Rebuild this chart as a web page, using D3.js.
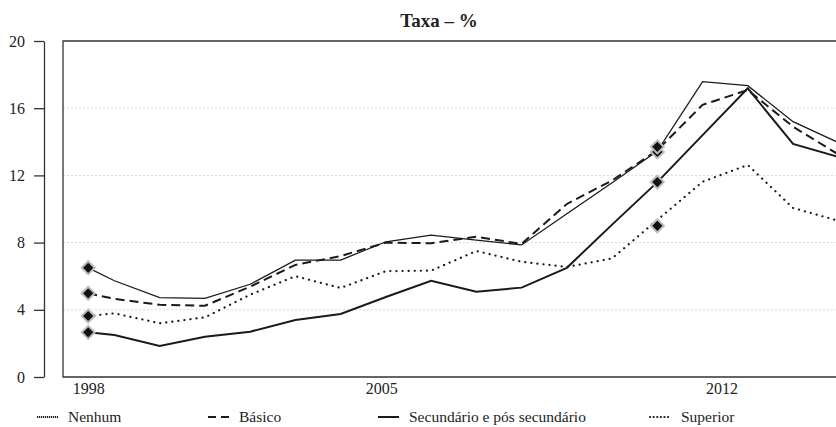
<!DOCTYPE html>
<html>
<head>
<meta charset="utf-8">
<script src="https://cdn.jsdelivr.net/npm/d3@7"></script>
<style>
  body { margin: 0; background: #fff; }
  svg text { font-family: "Liberation Serif", "Times New Roman", Times, serif; }
</style>
</head>
<body>
<script>
// Taxa de desemprego por nível de escolaridade (%)

//---- data
const years = [1998.42, 1999, 2000, 2001, 2002, 2003, 2004, 2005, 2006, 2007, 2008, 2009, 2010, 2011, 2012, 2013, 2014, 2015];
const nenhum     = [6.5, 5.73, 4.72, 4.68, 5.52, 6.96, 6.96, 8.05, 8.45, 8.15, 7.86, 9.72, 11.56, 13.45, 17.58, 17.34, 15.2, 13.95];
const basico     = [4.98, 4.65, 4.3, 4.24, 5.38, 6.67, 7.2, 8.0, 7.96, 8.35, 7.92, 10.3, 11.7, 13.5, 16.2, 17.08, 14.9, 13.25];
const secundario = [2.66, 2.5, 1.85, 2.4, 2.7, 3.39, 3.75, 4.76, 5.73, 5.08, 5.32, 6.5, 9.07, 11.6, 14.4, 17.18, 13.87, 13.1];
const superior   = [3.63, 3.79, 3.2, 3.55, 4.9, 6.0, 5.3, 6.3, 6.33, 7.5, 6.86, 6.55, 7.06, 9.35, 11.62, 12.62, 10.06, 9.3];

// series breaks (marked with diamonds)
const breakYears = [1998.42, 2011];
const nenhumBreak     = [6.5, 13.4];
const basicoBreak     = [4.98, 13.7];
const secundarioBreak = [2.66, 11.6];
const superiorBreak   = [3.63, 9.0];

const seriesNames = ["Nenhum", "Básico", "Secundário e pós secundário", "Superior"];
const yTicks = [0, 4, 8, 12, 16, 20];
const xTickValues = [1998.42, 2004.9, 2012.42];
const xTickLabels = ["1998", "2005", "2012"];

//---- drawing parameters
const width = 836, height = 427;
const boxLeft = 63, boxTop = 41, boxBottom = 377, boxRight = 839;
const yAxisX = 44;
const serif = "'Liberation Serif', 'Times New Roman', Times, serif";

const styles = [
  { width: 1.3, dash: null, cap: "butt" },
  { width: 2, dash: "9,5", cap: "butt" },
  { width: 2, dash: null, cap: "butt" },
  { width: 2.2, dash: "0.1,6", cap: "round" }
];
const legendX = [37, 208, 378, 650];
const legendY = 417;

const svg = d3.select("body").append("svg")
  .attr("width", width)
  .attr("height", height);

svg.append("rect").attr("width", width).attr("height", height).attr("fill", "#fff");

const x = d3.scaleLinear().domain([1998, 2015]).range([69.2, 838.3]);
const y = d3.scaleLinear().domain([0, 20]).range([boxBottom, boxTop]);

// title
svg.append("text")
  .attr("x", 439)
  .attr("y", 27)
  .attr("text-anchor", "middle")
  .attr("font-family", serif)
  .attr("font-size", 19)
  .attr("font-weight", "bold")
  .attr("fill", "#222")
  .text("Taxa – %");

// grid
svg.append("g")
  .selectAll("line")
  .data(yTicks.filter(t => t > 0 && t < 20))
  .join("line")
    .attr("x1", boxLeft).attr("x2", boxRight)
    .attr("y1", d => y(d)).attr("y2", d => y(d))
    .attr("stroke", "#d9d9d9")
    .attr("stroke-width", 1)
    .attr("stroke-dasharray", "2,2");

// plot box
svg.append("path")
  .attr("d", `M${boxRight},${boxTop}H${boxLeft}V${boxBottom}H${boxRight}`)
  .attr("fill", "none")
  .attr("stroke", "#333")
  .attr("stroke-width", 1.3);

// y axis (detached)
const yAxis = svg.append("g")
  .attr("transform", `translate(${yAxisX},0)`)
  .call(d3.axisLeft(y).tickValues(yTicks).tickSize(10).tickSizeOuter(0).tickPadding(9).tickFormat(d3.format("d")));
yAxis.attr("font-family", serif);
yAxis.select(".domain").attr("stroke", "#333").attr("stroke-width", 1.3);
yAxis.selectAll(".tick line").attr("stroke", "#333").attr("stroke-width", 1.3);
yAxis.selectAll("text").attr("font-size", 16).attr("fill", "#222").attr("font-family", serif);

// x axis labels
const xAxis = svg.append("g")
  .attr("transform", `translate(0,${boxBottom})`)
  .call(d3.axisBottom(x).tickValues(xTickValues).tickSize(0).tickPadding(6)
    .tickFormat((d, i) => xTickLabels[i]));
xAxis.attr("font-family", serif);
xAxis.select(".domain").remove();
xAxis.selectAll("text").attr("font-size", 16).attr("fill", "#222").attr("font-family", serif);

// lines
const allSeries = [nenhum, basico, secundario, superior];
const line = d3.line()
  .x((d, i) => x(years[i]))
  .y(d => y(d));

svg.append("g")
  .selectAll("path")
  .data(allSeries)
  .join("path")
    .attr("d", d => line(d))
    .attr("fill", "none")
    .attr("stroke", "#1a1a1a")
    .attr("stroke-width", (d, i) => styles[i].width)
    .attr("stroke-dasharray", (d, i) => styles[i].dash)
    .attr("stroke-linecap", (d, i) => styles[i].cap)
    .attr("stroke-linejoin", "miter");

// break markers
const breaks = [nenhumBreak, basicoBreak, secundarioBreak, superiorBreak];
const markerData = [];
breaks.forEach(s => s.forEach((v, i) => markerData.push({ year: breakYears[i], value: v })));

svg.append("g")
  .selectAll("path")
  .data(markerData)
  .join("path")
    .attr("d", d3.symbol(d3.symbolSquare, 85))
    .attr("transform", d => `translate(${x(d.year)},${y(d.value)}) rotate(45)`)
    .attr("fill", "#111")
    .attr("stroke", "#bdbdbd")
    .attr("stroke-width", 2);

// legend
const legend = svg.append("g")
  .selectAll("g")
  .data(seriesNames)
  .join("g")
    .attr("transform", (d, i) => `translate(${legendX[i]},${legendY})`);

legend.append("line")
  .attr("x1", 0).attr("x2", 21)
  .attr("y1", 0).attr("y2", 0)
  .attr("stroke", "#1a1a1a")
  .attr("stroke-width", (d, i) => i === 0 ? 2 : styles[i].width)
  .attr("stroke-linecap", (d, i) => styles[i].cap)
  .attr("stroke-dasharray", (d, i) => i === 0 ? "1.2,0.8" : (i === 1 ? "8,5" : (i === 3 ? "0.1,3.5" : null)));

legend.append("text")
  .attr("x", 31)
  .attr("y", 5)
  .attr("font-family", serif)
  .attr("font-size", 15.5)
  .attr("fill", "#222")
  .text(d => d);
</script>
</body>
</html>
